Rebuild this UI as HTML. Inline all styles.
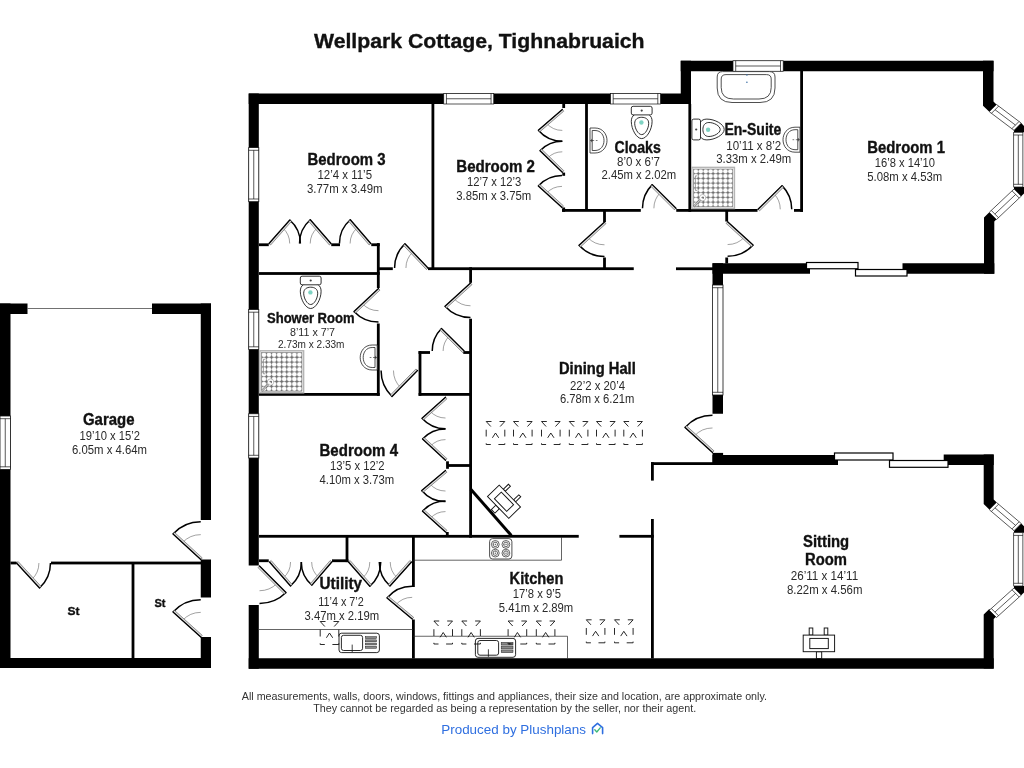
<!DOCTYPE html>
<html><head><meta charset="utf-8"><title>Wellpark Cottage, Tighnabruaich</title>
<style>
html,body{margin:0;padding:0;background:#fff;}
body{width:1024px;height:768px;overflow:hidden;font-family:"Liberation Sans",sans-serif;}
svg{display:block;font-family:"Liberation Sans",sans-serif;}
</style></head><body>
<svg width="1024" height="768" viewBox="0 0 1024 768">
<rect width="1024" height="768" fill="#fff"/>
<rect x="0.00" y="303.50" width="10.50" height="364.50" fill="#000" />
<rect x="0.00" y="303.50" width="27.50" height="10.50" fill="#000" />
<rect x="152.00" y="303.50" width="59.00" height="10.50" fill="#000" />
<rect x="200.75" y="303.50" width="10.25" height="216.50" fill="#000" />
<rect x="200.75" y="559.50" width="10.25" height="38.00" fill="#000" />
<rect x="200.75" y="637.00" width="10.25" height="31.00" fill="#000" />
<rect x="0.00" y="658.00" width="211.00" height="10.00" fill="#000" />
<line x1="27.50" y1="308.50" x2="152.00" y2="308.50" stroke="#333" stroke-width="0.7" stroke-linecap="butt"/>
<rect x="0.00" y="416.00" width="10.50" height="53.50" fill="#fff" stroke="#111" stroke-width="0.8"/>
<line x1="0.00" y1="418.70" x2="10.50" y2="418.70" stroke="#111" stroke-width="0.7" stroke-linecap="butt"/>
<line x1="0.00" y1="466.80" x2="10.50" y2="466.80" stroke="#111" stroke-width="0.7" stroke-linecap="butt"/>
<line x1="5.25" y1="418.70" x2="5.25" y2="466.80" stroke="#111" stroke-width="0.7" stroke-linecap="butt"/>
<rect x="10.50" y="561.60" width="6.00" height="2.80" fill="#000" />
<rect x="51.00" y="561.60" width="150.00" height="2.80" fill="#000" />
<rect x="131.60" y="563.00" width="2.80" height="95.00" fill="#000" />
<path d="M173.00,534.00 A37.69,37.69 0 0 1 200.75,521.81" fill="none" stroke="#000" stroke-width="1.5"/>
<path d="M182.44,542.67 A24.87,24.87 0 0 1 200.75,534.63" fill="none" stroke="#444" stroke-width="0.5"/>
<polygon points="200.75,559.50 173.00,534.00 174.49,532.38 202.24,557.88" fill="#ddd" stroke="#333" stroke-width="0.5"/>
<line x1="200.75" y1="559.50" x2="173.00" y2="534.00" stroke="#000" stroke-width="1.3" stroke-linecap="round"/>
<path d="M173.00,612.00 A37.35,37.35 0 0 1 200.75,599.65" fill="none" stroke="#000" stroke-width="1.5"/>
<path d="M182.44,620.50 A24.65,24.65 0 0 1 200.75,612.35" fill="none" stroke="#444" stroke-width="0.5"/>
<polygon points="200.75,637.00 173.00,612.00 174.47,610.37 202.22,635.37" fill="#ddd" stroke="#333" stroke-width="0.5"/>
<line x1="200.75" y1="637.00" x2="173.00" y2="612.00" stroke="#000" stroke-width="1.3" stroke-linecap="round"/>
<path d="M39.50,588.00 A33.97,33.97 0 0 0 50.47,563.00" fill="none" stroke="#000" stroke-width="1.5"/>
<path d="M31.68,579.50 A22.42,22.42 0 0 0 38.92,563.00" fill="none" stroke="#444" stroke-width="0.5"/>
<polygon points="16.50,563.00 39.50,588.00 41.12,586.51 18.12,561.51" fill="#ddd" stroke="#333" stroke-width="0.5"/>
<line x1="16.50" y1="563.00" x2="39.50" y2="588.00" stroke="#000" stroke-width="1.3" stroke-linecap="round"/>
<rect x="248.70" y="93.50" width="10.10" height="472.00" fill="#000" />
<rect x="248.70" y="605.00" width="10.10" height="63.75" fill="#000" />
<rect x="248.70" y="93.50" width="442.30" height="10.50" fill="#000" />
<rect x="680.75" y="60.75" width="10.25" height="43.25" fill="#000" />
<rect x="680.75" y="60.75" width="312.75" height="10.50" fill="#000" />
<polygon points="983,60.75 993.5,60.75 993.5,101.5 996.5,104.5 989.3,111.7 983,105.7" fill="#000"/>
<polygon points="984,273.75 994.3,273.75 994.3,221.5 996.5,219.3 989.3,212.2 984,217.5" fill="#000"/>
<rect x="712.50" y="263.25" width="97.50" height="10.50" fill="#000" />
<rect x="902.50" y="263.25" width="91.80" height="10.50" fill="#000" />
<rect x="712.50" y="263.25" width="10.50" height="21.75" fill="#000" />
<rect x="712.50" y="395.00" width="10.50" height="18.75" fill="#000" />
<rect x="712.50" y="452.90" width="10.60" height="12.10" fill="#000" />
<rect x="712.50" y="455.00" width="125.50" height="10.00" fill="#000" />
<rect x="943.70" y="454.50" width="50.00" height="10.50" fill="#000" />
<polygon points="983.7,454.5 993.7,454.5 993.7,499.5 996.5,502.3 989.3,509.5 983.7,504" fill="#000"/>
<polygon points="983.7,668.5 993.7,668.5 993.7,619 996.5,616.2 989.3,609 983.7,614.5" fill="#000"/>
<rect x="248.70" y="658.25" width="745.00" height="10.50" fill="#000" />
<rect x="248.70" y="147.60" width="10.10" height="54.10" fill="#fff" stroke="#111" stroke-width="0.8"/>
<line x1="248.70" y1="150.30" x2="258.80" y2="150.30" stroke="#111" stroke-width="0.7" stroke-linecap="butt"/>
<line x1="248.70" y1="199.00" x2="258.80" y2="199.00" stroke="#111" stroke-width="0.7" stroke-linecap="butt"/>
<line x1="253.75" y1="150.30" x2="253.75" y2="199.00" stroke="#111" stroke-width="0.7" stroke-linecap="butt"/>
<rect x="248.70" y="309.50" width="10.10" height="40.00" fill="#fff" stroke="#111" stroke-width="0.8"/>
<line x1="248.70" y1="312.20" x2="258.80" y2="312.20" stroke="#111" stroke-width="0.7" stroke-linecap="butt"/>
<line x1="248.70" y1="346.80" x2="258.80" y2="346.80" stroke="#111" stroke-width="0.7" stroke-linecap="butt"/>
<line x1="253.75" y1="312.20" x2="253.75" y2="346.80" stroke="#111" stroke-width="0.7" stroke-linecap="butt"/>
<rect x="248.70" y="413.75" width="10.10" height="44.25" fill="#fff" stroke="#111" stroke-width="0.8"/>
<line x1="248.70" y1="416.45" x2="258.80" y2="416.45" stroke="#111" stroke-width="0.7" stroke-linecap="butt"/>
<line x1="248.70" y1="455.30" x2="258.80" y2="455.30" stroke="#111" stroke-width="0.7" stroke-linecap="butt"/>
<line x1="253.75" y1="416.45" x2="253.75" y2="455.30" stroke="#111" stroke-width="0.7" stroke-linecap="butt"/>
<rect x="443.75" y="93.50" width="50.00" height="10.50" fill="#fff" stroke="#111" stroke-width="0.7"/>
<line x1="446.45" y1="93.50" x2="446.45" y2="104.00" stroke="#111" stroke-width="0.7" stroke-linecap="butt"/>
<line x1="491.05" y1="93.50" x2="491.05" y2="104.00" stroke="#111" stroke-width="0.7" stroke-linecap="butt"/>
<line x1="446.45" y1="98.75" x2="491.05" y2="98.75" stroke="#111" stroke-width="0.7" stroke-linecap="butt"/>
<rect x="610.50" y="93.50" width="50.00" height="10.50" fill="#fff" stroke="#111" stroke-width="0.7"/>
<line x1="613.20" y1="93.50" x2="613.20" y2="104.00" stroke="#111" stroke-width="0.7" stroke-linecap="butt"/>
<line x1="657.80" y1="93.50" x2="657.80" y2="104.00" stroke="#111" stroke-width="0.7" stroke-linecap="butt"/>
<line x1="613.20" y1="98.75" x2="657.80" y2="98.75" stroke="#111" stroke-width="0.7" stroke-linecap="butt"/>
<rect x="733.00" y="60.75" width="50.20" height="10.50" fill="#fff" stroke="#111" stroke-width="0.7"/>
<line x1="735.70" y1="60.75" x2="735.70" y2="71.25" stroke="#111" stroke-width="0.7" stroke-linecap="butt"/>
<line x1="780.50" y1="60.75" x2="780.50" y2="71.25" stroke="#111" stroke-width="0.7" stroke-linecap="butt"/>
<line x1="735.70" y1="66.00" x2="780.50" y2="66.00" stroke="#111" stroke-width="0.7" stroke-linecap="butt"/>
<rect x="712.50" y="285.00" width="10.50" height="110.00" fill="#fff" stroke="#111" stroke-width="0.8"/>
<line x1="712.50" y1="287.70" x2="723.00" y2="287.70" stroke="#111" stroke-width="0.7" stroke-linecap="butt"/>
<line x1="712.50" y1="392.30" x2="723.00" y2="392.30" stroke="#111" stroke-width="0.7" stroke-linecap="butt"/>
<line x1="717.75" y1="287.70" x2="717.75" y2="392.30" stroke="#111" stroke-width="0.7" stroke-linecap="butt"/>
<rect x="806.50" y="262.50" width="51.50" height="6.25" fill="#fff" stroke="#000" stroke-width="1.2"/>
<rect x="855.50" y="269.50" width="51.50" height="6.50" fill="#fff" stroke="#000" stroke-width="1.2"/>
<rect x="834.50" y="453.00" width="58.50" height="7.00" fill="#fff" stroke="#000" stroke-width="1.2"/>
<rect x="889.50" y="460.50" width="58.50" height="6.80" fill="#fff" stroke="#000" stroke-width="1.2"/>
<polygon points="1014,130.30 1021.2,123.10 1024,125.90 1024,132.30 1014,132.30" fill="#000"/>
<polygon points="1014,189.00 1021.2,196.20 1024,193.40 1024,187.00 1014,187.00" fill="#000"/>
<polygon points="989.30,111.70 1014.00,130.30 1021.20,123.10 996.50,104.50" fill="#fff" stroke="#111" stroke-width="0.7"/>
<line x1="991.46" y1="113.32" x2="998.66" y2="106.12" stroke="#111" stroke-width="0.7" stroke-linecap="butt"/>
<line x1="1011.84" y1="128.68" x2="1019.04" y2="121.48" stroke="#111" stroke-width="0.7" stroke-linecap="butt"/>
<line x1="995.06" y1="109.72" x2="1015.44" y2="125.08" stroke="#111" stroke-width="0.7" stroke-linecap="butt"/>
<polygon points="989.30,212.30 1014.00,189.00 1021.20,196.20 996.50,219.50" fill="#fff" stroke="#111" stroke-width="0.7"/>
<line x1="991.26" y1="210.45" x2="998.46" y2="217.65" stroke="#111" stroke-width="0.7" stroke-linecap="butt"/>
<line x1="1012.04" y1="190.85" x2="1019.24" y2="198.05" stroke="#111" stroke-width="0.7" stroke-linecap="butt"/>
<line x1="994.86" y1="214.05" x2="1015.64" y2="194.45" stroke="#111" stroke-width="0.7" stroke-linecap="butt"/>
<rect x="1013.7" y="132.30" width="9.2" height="54.70" fill="#fff" stroke="#111" stroke-width="0.7"/>
<line x1="1013.70" y1="135.00" x2="1022.90" y2="135.00" stroke="#111" stroke-width="0.7" stroke-linecap="butt"/>
<line x1="1013.70" y1="184.30" x2="1022.90" y2="184.30" stroke="#111" stroke-width="0.7" stroke-linecap="butt"/>
<line x1="1018.30" y1="135.00" x2="1018.30" y2="184.30" stroke="#111" stroke-width="0.7" stroke-linecap="butt"/>
<polygon points="1014,530.70 1021.2,523.50 1024,526.30 1024,532.70 1014,532.70" fill="#000"/>
<polygon points="1014,588.00 1021.2,595.20 1024,592.40 1024,586.00 1014,586.00" fill="#000"/>
<polygon points="989.30,509.70 1014.00,530.70 1021.20,523.50 996.50,502.50" fill="#fff" stroke="#111" stroke-width="0.7"/>
<line x1="991.36" y1="511.45" x2="998.56" y2="504.25" stroke="#111" stroke-width="0.7" stroke-linecap="butt"/>
<line x1="1011.94" y1="528.95" x2="1019.14" y2="521.75" stroke="#111" stroke-width="0.7" stroke-linecap="butt"/>
<line x1="994.96" y1="507.85" x2="1015.54" y2="525.35" stroke="#111" stroke-width="0.7" stroke-linecap="butt"/>
<polygon points="989.30,610.30 1014.00,588.00 1021.20,595.20 996.50,617.50" fill="#fff" stroke="#111" stroke-width="0.7"/>
<line x1="991.30" y1="608.49" x2="998.50" y2="615.69" stroke="#111" stroke-width="0.7" stroke-linecap="butt"/>
<line x1="1012.00" y1="589.81" x2="1019.20" y2="597.01" stroke="#111" stroke-width="0.7" stroke-linecap="butt"/>
<line x1="994.90" y1="612.09" x2="1015.60" y2="593.41" stroke="#111" stroke-width="0.7" stroke-linecap="butt"/>
<rect x="1013.7" y="532.70" width="9.2" height="53.30" fill="#fff" stroke="#111" stroke-width="0.7"/>
<line x1="1013.70" y1="535.40" x2="1022.90" y2="535.40" stroke="#111" stroke-width="0.7" stroke-linecap="butt"/>
<line x1="1013.70" y1="583.30" x2="1022.90" y2="583.30" stroke="#111" stroke-width="0.7" stroke-linecap="butt"/>
<line x1="1018.30" y1="535.40" x2="1018.30" y2="583.30" stroke="#111" stroke-width="0.7" stroke-linecap="butt"/>
<rect x="431.50" y="104.00" width="2.80" height="166.00" fill="#000" />
<rect x="259.00" y="243.35" width="9.75" height="2.80" fill="#000" />
<rect x="331.25" y="243.35" width="8.75" height="2.80" fill="#000" />
<rect x="371.25" y="243.35" width="8.45" height="2.80" fill="#000" />
<rect x="376.90" y="243.10" width="2.80" height="44.90" fill="#000" />
<rect x="376.90" y="323.50" width="2.80" height="72.30" fill="#000" />
<rect x="259.00" y="272.10" width="120.70" height="2.80" fill="#000" />
<rect x="377.00" y="267.30" width="15.80" height="2.80" fill="#000" />
<rect x="428.00" y="267.30" width="205.75" height="2.80" fill="#000" />
<rect x="676.00" y="267.35" width="37.00" height="2.80" fill="#000" />
<rect x="259.00" y="393.00" width="120.70" height="2.80" fill="#000" />
<rect x="418.60" y="393.00" width="53.40" height="2.80" fill="#000" />
<rect x="469.20" y="267.30" width="2.80" height="15.50" fill="#000" />
<rect x="469.20" y="318.75" width="2.80" height="218.95" fill="#000" />
<rect x="418.50" y="351.10" width="11.50" height="2.80" fill="#000" />
<rect x="463.25" y="351.10" width="8.75" height="2.80" fill="#000" />
<rect x="418.60" y="351.10" width="2.80" height="44.70" fill="#000" />
<rect x="446.10" y="461.30" width="2.80" height="7.50" fill="#000" />
<rect x="445.90" y="532.00" width="2.80" height="4.50" fill="#000" />
<rect x="447.00" y="464.10" width="25.00" height="2.80" fill="#000" />
<rect x="259.00" y="534.90" width="319.75" height="2.80" fill="#000" />
<rect x="619.40" y="534.90" width="34.40" height="2.80" fill="#000" />
<rect x="345.60" y="536.00" width="2.80" height="26.10" fill="#000" />
<rect x="332.00" y="559.35" width="16.40" height="2.80" fill="#000" />
<rect x="259.00" y="559.35" width="9.75" height="2.80" fill="#000" />
<rect x="412.00" y="536.00" width="2.80" height="51.00" fill="#000" />
<rect x="412.00" y="619.50" width="2.80" height="39.00" fill="#000" />
<rect x="651.00" y="462.20" width="2.80" height="18.40" fill="#000" />
<rect x="651.00" y="519.00" width="2.80" height="139.50" fill="#000" />
<rect x="651.00" y="462.20" width="62.00" height="2.80" fill="#000" />
<line x1="470.80" y1="489.30" x2="511.30" y2="535.40" stroke="#000" stroke-width="3.0" stroke-linecap="butt"/>
<rect x="562.30" y="103.50" width="2.80" height="4.50" fill="#000" />
<rect x="562.30" y="172.60" width="2.80" height="3.20" fill="#000" />
<rect x="562.30" y="207.50" width="2.80" height="4.30" fill="#000" />
<rect x="562.00" y="209.00" width="78.80" height="2.80" fill="#000" />
<rect x="676.25" y="209.00" width="81.25" height="2.80" fill="#000" />
<rect x="794.00" y="209.00" width="9.00" height="2.80" fill="#000" />
<rect x="585.10" y="104.00" width="2.80" height="106.30" fill="#000" />
<rect x="603.10" y="210.00" width="2.80" height="12.00" fill="#000" />
<rect x="603.10" y="257.50" width="2.80" height="11.20" fill="#000" />
<rect x="688.40" y="104.00" width="2.80" height="107.80" fill="#000" />
<rect x="800.20" y="71.00" width="2.80" height="140.80" fill="#000" />
<rect x="725.30" y="210.00" width="2.80" height="11.50" fill="#000" />
<rect x="725.30" y="257.50" width="2.80" height="6.00" fill="#000" />
<line x1="259.00" y1="629.50" x2="413.00" y2="629.50" stroke="#222" stroke-width="0.7" stroke-linecap="butt"/>
<line x1="413.00" y1="636.25" x2="567.50" y2="636.25" stroke="#222" stroke-width="0.7" stroke-linecap="butt"/>
<line x1="567.50" y1="636.25" x2="567.50" y2="658.50" stroke="#222" stroke-width="0.7" stroke-linecap="butt"/>
<line x1="413.00" y1="560.20" x2="561.50" y2="560.20" stroke="#222" stroke-width="0.7" stroke-linecap="butt"/>
<line x1="561.50" y1="537.00" x2="561.50" y2="560.20" stroke="#222" stroke-width="0.7" stroke-linecap="butt"/>
<path d="M289.80,220.00 A31.38,31.38 0 0 1 300.38,243.50" fill="none" stroke="#000" stroke-width="1.5"/>
<path d="M282.73,227.99 A20.71,20.71 0 0 1 289.71,243.50" fill="none" stroke="#444" stroke-width="0.5"/>
<polygon points="269.00,243.50 289.80,220.00 291.45,221.46 270.65,244.96" fill="#ddd" stroke="#333" stroke-width="0.5"/>
<line x1="269.00" y1="243.50" x2="289.80" y2="220.00" stroke="#000" stroke-width="1.3" stroke-linecap="round"/>
<path d="M310.30,219.80 A31.47,31.47 0 0 0 299.53,243.50" fill="none" stroke="#000" stroke-width="1.5"/>
<path d="M317.34,227.86 A20.77,20.77 0 0 0 310.23,243.50" fill="none" stroke="#444" stroke-width="0.5"/>
<polygon points="331.00,243.50 310.30,219.80 308.64,221.25 329.34,244.95" fill="#ddd" stroke="#333" stroke-width="0.5"/>
<line x1="331.00" y1="243.50" x2="310.30" y2="219.80" stroke="#000" stroke-width="1.3" stroke-linecap="round"/>
<path d="M350.30,219.80 A31.34,31.34 0 0 0 339.46,243.50" fill="none" stroke="#000" stroke-width="1.5"/>
<path d="M357.27,227.86 A20.68,20.68 0 0 0 350.12,243.50" fill="none" stroke="#444" stroke-width="0.5"/>
<polygon points="370.80,243.50 350.30,219.80 348.64,221.24 369.14,244.94" fill="#ddd" stroke="#333" stroke-width="0.5"/>
<line x1="370.80" y1="243.50" x2="350.30" y2="219.80" stroke="#000" stroke-width="1.3" stroke-linecap="round"/>
<path d="M405.00,243.75 A33.42,33.42 0 0 0 394.58,268.00" fill="none" stroke="#000" stroke-width="1.5"/>
<path d="M412.82,252.00 A22.06,22.06 0 0 0 405.94,268.00" fill="none" stroke="#444" stroke-width="0.5"/>
<polygon points="428.00,268.00 405.00,243.75 403.40,245.26 426.40,269.51" fill="#ddd" stroke="#333" stroke-width="0.5"/>
<line x1="428.00" y1="268.00" x2="405.00" y2="243.75" stroke="#000" stroke-width="1.3" stroke-linecap="round"/>
<path d="M354.00,311.50 A33.60,33.60 0 0 0 378.50,322.10" fill="none" stroke="#000" stroke-width="1.5"/>
<path d="M362.33,303.68 A22.18,22.18 0 0 0 378.50,310.68" fill="none" stroke="#444" stroke-width="0.5"/>
<polygon points="378.50,288.50 354.00,311.50 355.51,313.10 380.01,290.10" fill="#ddd" stroke="#333" stroke-width="0.5"/>
<line x1="378.50" y1="288.50" x2="354.00" y2="311.50" stroke="#000" stroke-width="1.3" stroke-linecap="round"/>
<path d="M445.00,306.25 A34.51,34.51 0 0 0 470.50,317.51" fill="none" stroke="#000" stroke-width="1.5"/>
<path d="M453.67,298.35 A22.78,22.78 0 0 0 470.50,305.78" fill="none" stroke="#444" stroke-width="0.5"/>
<polygon points="470.50,283.00 445.00,306.25 446.48,307.88 471.98,284.63" fill="#ddd" stroke="#333" stroke-width="0.5"/>
<line x1="470.50" y1="283.00" x2="445.00" y2="306.25" stroke="#000" stroke-width="1.3" stroke-linecap="round"/>
<path d="M441.50,328.50 A31.96,31.96 0 0 0 432.24,351.00" fill="none" stroke="#000" stroke-width="1.5"/>
<path d="M449.22,336.15 A21.09,21.09 0 0 0 443.11,351.00" fill="none" stroke="#444" stroke-width="0.5"/>
<polygon points="464.20,351.00 441.50,328.50 439.95,330.06 462.65,352.56" fill="#ddd" stroke="#333" stroke-width="0.5"/>
<line x1="464.20" y1="351.00" x2="441.50" y2="328.50" stroke="#000" stroke-width="1.3" stroke-linecap="round"/>
<path d="M392.00,396.50 A36.42,36.42 0 0 1 381.08,370.50" fill="none" stroke="#000" stroke-width="1.5"/>
<path d="M400.67,387.66 A24.04,24.04 0 0 1 393.46,370.50" fill="none" stroke="#444" stroke-width="0.5"/>
<polygon points="417.50,370.50 392.00,396.50 390.43,394.96 415.93,368.96" fill="#ddd" stroke="#333" stroke-width="0.5"/>
<line x1="417.50" y1="370.50" x2="392.00" y2="396.50" stroke="#000" stroke-width="1.3" stroke-linecap="round"/>
<path d="M422.00,418.20 A31.52,31.52 0 0 0 445.50,428.72" fill="none" stroke="#000" stroke-width="1.5"/>
<path d="M429.99,411.06 A20.80,20.80 0 0 0 445.50,418.00" fill="none" stroke="#444" stroke-width="0.5"/>
<polygon points="445.50,397.20 422.00,418.20 423.47,419.84 446.97,398.84" fill="#ddd" stroke="#333" stroke-width="0.5"/>
<line x1="445.50" y1="397.20" x2="422.00" y2="418.20" stroke="#000" stroke-width="1.3" stroke-linecap="round"/>
<path d="M422.50,439.00 A31.35,31.35 0 0 1 445.50,428.95" fill="none" stroke="#000" stroke-width="1.5"/>
<path d="M430.32,446.24 A20.69,20.69 0 0 1 445.50,439.61" fill="none" stroke="#444" stroke-width="0.5"/>
<polygon points="445.50,460.30 422.50,439.00 423.99,437.39 446.99,458.69" fill="#ddd" stroke="#333" stroke-width="0.5"/>
<line x1="445.50" y1="460.30" x2="422.50" y2="439.00" stroke="#000" stroke-width="1.3" stroke-linecap="round"/>
<path d="M421.70,490.50 A31.09,31.09 0 0 0 445.50,501.59" fill="none" stroke="#000" stroke-width="1.5"/>
<path d="M429.79,483.70 A20.52,20.52 0 0 0 445.50,491.02" fill="none" stroke="#444" stroke-width="0.5"/>
<polygon points="445.50,470.50 421.70,490.50 423.12,492.18 446.92,472.18" fill="#ddd" stroke="#333" stroke-width="0.5"/>
<line x1="445.50" y1="470.50" x2="421.70" y2="490.50" stroke="#000" stroke-width="1.3" stroke-linecap="round"/>
<path d="M422.50,511.30 A30.94,30.94 0 0 1 445.50,501.06" fill="none" stroke="#000" stroke-width="1.5"/>
<path d="M430.32,518.34 A20.42,20.42 0 0 1 445.50,511.58" fill="none" stroke="#444" stroke-width="0.5"/>
<polygon points="445.50,532.00 422.50,511.30 423.97,509.66 446.97,530.36" fill="#ddd" stroke="#333" stroke-width="0.5"/>
<line x1="445.50" y1="532.00" x2="422.50" y2="511.30" stroke="#000" stroke-width="1.3" stroke-linecap="round"/>
<path d="M286.00,592.50 A37.48,37.48 0 0 1 259.50,603.48" fill="none" stroke="#000" stroke-width="1.5"/>
<path d="M276.99,583.49 A24.73,24.73 0 0 1 259.50,590.73" fill="none" stroke="#444" stroke-width="0.5"/>
<polygon points="259.50,566.00 286.00,592.50 284.44,594.06 257.94,567.56" fill="#ddd" stroke="#333" stroke-width="0.5"/>
<line x1="259.50" y1="566.00" x2="286.00" y2="592.50" stroke="#000" stroke-width="1.3" stroke-linecap="round"/>
<path d="M290.50,586.00 A31.89,31.89 0 0 0 301.39,562.00" fill="none" stroke="#000" stroke-width="1.5"/>
<path d="M283.36,577.84 A21.05,21.05 0 0 0 290.55,562.00" fill="none" stroke="#444" stroke-width="0.5"/>
<polygon points="269.50,562.00 290.50,586.00 292.16,584.55 271.16,560.55" fill="#ddd" stroke="#333" stroke-width="0.5"/>
<line x1="269.50" y1="562.00" x2="290.50" y2="586.00" stroke="#000" stroke-width="1.3" stroke-linecap="round"/>
<path d="M312.00,585.20 A30.50,30.50 0 0 1 301.30,562.00" fill="none" stroke="#000" stroke-width="1.5"/>
<path d="M318.73,577.31 A20.13,20.13 0 0 1 311.67,562.00" fill="none" stroke="#444" stroke-width="0.5"/>
<polygon points="331.80,562.00 312.00,585.20 310.33,583.77 330.13,560.57" fill="#ddd" stroke="#333" stroke-width="0.5"/>
<line x1="331.80" y1="562.00" x2="312.00" y2="585.20" stroke="#000" stroke-width="1.3" stroke-linecap="round"/>
<path d="M369.80,586.20 A32.24,32.24 0 0 0 380.74,562.00" fill="none" stroke="#000" stroke-width="1.5"/>
<path d="M362.56,577.97 A21.28,21.28 0 0 0 369.78,562.00" fill="none" stroke="#444" stroke-width="0.5"/>
<polygon points="348.50,562.00 369.80,586.20 371.45,584.75 350.15,560.55" fill="#ddd" stroke="#333" stroke-width="0.5"/>
<line x1="348.50" y1="562.00" x2="369.80" y2="586.20" stroke="#000" stroke-width="1.3" stroke-linecap="round"/>
<path d="M390.00,586.00 A32.22,32.22 0 0 1 379.28,562.00" fill="none" stroke="#000" stroke-width="1.5"/>
<path d="M397.31,577.84 A21.27,21.27 0 0 1 390.23,562.00" fill="none" stroke="#444" stroke-width="0.5"/>
<polygon points="411.50,562.00 390.00,586.00 388.36,584.53 409.86,560.53" fill="#ddd" stroke="#333" stroke-width="0.5"/>
<line x1="411.50" y1="562.00" x2="390.00" y2="586.00" stroke="#000" stroke-width="1.3" stroke-linecap="round"/>
<path d="M387.00,598.00 A32.80,32.80 0 0 1 412.20,586.20" fill="none" stroke="#000" stroke-width="1.5"/>
<path d="M395.57,605.14 A21.65,21.65 0 0 1 412.20,597.35" fill="none" stroke="#444" stroke-width="0.5"/>
<polygon points="412.20,619.00 387.00,598.00 388.41,596.31 413.61,617.31" fill="#ddd" stroke="#333" stroke-width="0.5"/>
<line x1="412.20" y1="619.00" x2="387.00" y2="598.00" stroke="#000" stroke-width="1.3" stroke-linecap="round"/>
<path d="M538.30,130.20 A31.69,31.69 0 0 0 562.30,141.19" fill="none" stroke="#000" stroke-width="1.5"/>
<path d="M546.46,123.16 A20.92,20.92 0 0 0 562.30,130.42" fill="none" stroke="#444" stroke-width="0.5"/>
<polygon points="562.30,109.50 538.30,130.20 539.74,131.87 563.74,111.17" fill="#ddd" stroke="#333" stroke-width="0.5"/>
<line x1="562.30" y1="109.50" x2="538.30" y2="130.20" stroke="#000" stroke-width="1.3" stroke-linecap="round"/>
<path d="M540.00,150.70 A31.05,31.05 0 0 1 562.30,141.25" fill="none" stroke="#000" stroke-width="1.5"/>
<path d="M547.58,158.04 A20.49,20.49 0 0 1 562.30,151.81" fill="none" stroke="#444" stroke-width="0.5"/>
<polygon points="562.30,172.30 540.00,150.70 541.53,149.12 563.83,170.72" fill="#ddd" stroke="#333" stroke-width="0.5"/>
<line x1="562.30" y1="172.30" x2="540.00" y2="150.70" stroke="#000" stroke-width="1.3" stroke-linecap="round"/>
<path d="M538.30,186.00 A32.00,32.00 0 0 1 562.00,175.50" fill="none" stroke="#000" stroke-width="1.5"/>
<path d="M546.36,193.31 A21.12,21.12 0 0 1 562.00,186.38" fill="none" stroke="#444" stroke-width="0.5"/>
<polygon points="562.00,207.50 538.30,186.00 539.78,184.37 563.48,205.87" fill="#ddd" stroke="#333" stroke-width="0.5"/>
<line x1="562.00" y1="207.50" x2="538.30" y2="186.00" stroke="#000" stroke-width="1.3" stroke-linecap="round"/>
<path d="M579.00,245.30 A34.54,34.54 0 0 0 604.50,256.54" fill="none" stroke="#000" stroke-width="1.5"/>
<path d="M587.67,237.38 A22.80,22.80 0 0 0 604.50,244.80" fill="none" stroke="#444" stroke-width="0.5"/>
<polygon points="604.50,222.00 579.00,245.30 580.48,246.92 605.98,223.62" fill="#ddd" stroke="#333" stroke-width="0.5"/>
<line x1="604.50" y1="222.00" x2="579.00" y2="245.30" stroke="#000" stroke-width="1.3" stroke-linecap="round"/>
<path d="M652.30,184.60 A33.52,33.52 0 0 0 642.48,208.30" fill="none" stroke="#000" stroke-width="1.5"/>
<path d="M660.36,192.66 A22.12,22.12 0 0 0 653.88,208.30" fill="none" stroke="#444" stroke-width="0.5"/>
<polygon points="676.00,208.30 652.30,184.60 650.74,186.16 674.44,209.86" fill="#ddd" stroke="#333" stroke-width="0.5"/>
<line x1="676.00" y1="208.30" x2="652.30" y2="184.60" stroke="#000" stroke-width="1.3" stroke-linecap="round"/>
<path d="M782.00,185.60 A33.73,33.73 0 0 1 791.73,209.30" fill="none" stroke="#000" stroke-width="1.5"/>
<path d="M773.84,193.66 A22.26,22.26 0 0 1 780.26,209.30" fill="none" stroke="#444" stroke-width="0.5"/>
<polygon points="758.00,209.30 782.00,185.60 783.55,187.17 759.55,210.87" fill="#ddd" stroke="#333" stroke-width="0.5"/>
<line x1="758.00" y1="209.30" x2="782.00" y2="185.60" stroke="#000" stroke-width="1.3" stroke-linecap="round"/>
<path d="M753.10,245.00 A34.47,34.47 0 0 1 727.60,256.27" fill="none" stroke="#000" stroke-width="1.5"/>
<path d="M744.43,237.11 A22.75,22.75 0 0 1 727.60,244.55" fill="none" stroke="#444" stroke-width="0.5"/>
<polygon points="727.60,221.80 753.10,245.00 751.62,246.63 726.12,223.43" fill="#ddd" stroke="#333" stroke-width="0.5"/>
<line x1="727.60" y1="221.80" x2="753.10" y2="245.00" stroke="#000" stroke-width="1.3" stroke-linecap="round"/>
<path d="M685.00,427.50 A37.17,37.17 0 0 1 712.50,415.33" fill="none" stroke="#000" stroke-width="1.5"/>
<path d="M694.35,436.00 A24.53,24.53 0 0 1 712.50,427.97" fill="none" stroke="#444" stroke-width="0.5"/>
<polygon points="712.50,452.50 685.00,427.50 686.48,425.87 713.98,450.87" fill="#ddd" stroke="#333" stroke-width="0.5"/>
<line x1="712.50" y1="452.50" x2="685.00" y2="427.50" stroke="#000" stroke-width="1.3" stroke-linecap="round"/>
<defs>

<g id="sky" fill="none" stroke="#111" stroke-width="0.9">
<path d="M0,0H5.3M0,0L4.6,5 M18.6,0H13.3M18.6,0L14,5 M0,8.2V15 M18.6,8.2V15 M6.2,16.3L9.3,11.5L12.5,16.3 M0,21.8V23H4.6 M18.6,21.8V23H12.2"/>
</g>
<g id="wc" fill="#fff" stroke="#1a1a1a" stroke-width="0.9">
<path d="M-10.4,15 C-10.4,23 -5.2,32.3 0,32.3 C5.2,32.3 10.4,23 10.4,15 C10.4,9 6,6.5 0,6.5 C-6,6.5 -10.4,9 -10.4,15Z"/>
<path d="M-7,17 C-7,22 -3.6,28.3 0,28.3 C3.6,28.3 7,22 7,17 C7,13 4,11 0,11 C-4,11 -7,13 -7,17Z"/>
<rect x="-10.4" y="0" width="20.8" height="8.6" rx="1.8"/>
<circle cx="0" cy="4.3" r="1.1" fill="#444" stroke="none"/>
<circle cx="-0.3" cy="16.2" r="2.2" fill="#7fd3c3" stroke="none"/>
</g>
<g id="sink" fill="#fff" stroke="#222" stroke-width="0.8">
<path d="M0,-12.5 H-5 C-13,-12.5 -17,-6 -17,0 C-17,6 -13,12.5 -5,12.5 H0 Z"/>
<path d="M-2.2,-10 H-5 C-11,-10 -14,-5 -14,0 C-14,5 -11,10 -5,10 H-2.2 Z"/>
<path d="M-7.5,0H-5.8 M-4.2,0H0 M-1.6,-1.6V1.6" stroke-width="0.6"/>
</g>
</defs>
<use href="#wc" x="310.7" y="276.2"/>
<use href="#wc" x="641.7" y="106.3"/>
<use href="#wc" transform="translate(691.9,129.5) rotate(-90)"/>
<use href="#sink" x="377.2" y="357.5"/>
<use href="#sink" x="800" y="139.7"/>
<use href="#sink" transform="translate(590,140.5) scale(-1,1)"/>
<rect x="259.8" y="350.8" width="43.80000000000001" height="42.0" fill="#fff" stroke="#b5b5b5" stroke-width="1.5"/>
<rect x="261.40" y="352.40" width="40.60" height="38.80" fill="#6e6e6e"/>
<ellipse cx="263.94" cy="354.83" rx="2.42" ry="2.30" fill="#fff" stroke="#aaa" stroke-width="0.35"/>
<ellipse cx="263.94" cy="359.68" rx="2.42" ry="2.30" fill="#fff" stroke="#aaa" stroke-width="0.35"/>
<ellipse cx="263.94" cy="364.53" rx="2.42" ry="2.30" fill="#fff" stroke="#aaa" stroke-width="0.35"/>
<ellipse cx="263.94" cy="369.38" rx="2.42" ry="2.30" fill="#fff" stroke="#aaa" stroke-width="0.35"/>
<ellipse cx="263.94" cy="374.23" rx="2.42" ry="2.30" fill="#fff" stroke="#aaa" stroke-width="0.35"/>
<ellipse cx="263.94" cy="379.08" rx="2.42" ry="2.30" fill="#fff" stroke="#aaa" stroke-width="0.35"/>
<ellipse cx="263.94" cy="383.93" rx="2.42" ry="2.30" fill="#fff" stroke="#aaa" stroke-width="0.35"/>
<ellipse cx="263.94" cy="388.78" rx="2.42" ry="2.30" fill="#fff" stroke="#aaa" stroke-width="0.35"/>
<ellipse cx="269.01" cy="354.83" rx="2.42" ry="2.30" fill="#fff" stroke="#aaa" stroke-width="0.35"/>
<ellipse cx="269.01" cy="359.68" rx="2.42" ry="2.30" fill="#fff" stroke="#aaa" stroke-width="0.35"/>
<ellipse cx="269.01" cy="364.53" rx="2.42" ry="2.30" fill="#fff" stroke="#aaa" stroke-width="0.35"/>
<ellipse cx="269.01" cy="369.38" rx="2.42" ry="2.30" fill="#fff" stroke="#aaa" stroke-width="0.35"/>
<ellipse cx="269.01" cy="374.23" rx="2.42" ry="2.30" fill="#fff" stroke="#aaa" stroke-width="0.35"/>
<ellipse cx="269.01" cy="379.08" rx="2.42" ry="2.30" fill="#fff" stroke="#aaa" stroke-width="0.35"/>
<ellipse cx="269.01" cy="383.93" rx="2.42" ry="2.30" fill="#fff" stroke="#aaa" stroke-width="0.35"/>
<ellipse cx="269.01" cy="388.78" rx="2.42" ry="2.30" fill="#fff" stroke="#aaa" stroke-width="0.35"/>
<ellipse cx="274.09" cy="354.83" rx="2.42" ry="2.30" fill="#fff" stroke="#aaa" stroke-width="0.35"/>
<ellipse cx="274.09" cy="359.68" rx="2.42" ry="2.30" fill="#fff" stroke="#aaa" stroke-width="0.35"/>
<ellipse cx="274.09" cy="364.53" rx="2.42" ry="2.30" fill="#fff" stroke="#aaa" stroke-width="0.35"/>
<ellipse cx="274.09" cy="369.38" rx="2.42" ry="2.30" fill="#fff" stroke="#aaa" stroke-width="0.35"/>
<ellipse cx="274.09" cy="374.23" rx="2.42" ry="2.30" fill="#fff" stroke="#aaa" stroke-width="0.35"/>
<ellipse cx="274.09" cy="379.08" rx="2.42" ry="2.30" fill="#fff" stroke="#aaa" stroke-width="0.35"/>
<ellipse cx="274.09" cy="383.93" rx="2.42" ry="2.30" fill="#fff" stroke="#aaa" stroke-width="0.35"/>
<ellipse cx="274.09" cy="388.78" rx="2.42" ry="2.30" fill="#fff" stroke="#aaa" stroke-width="0.35"/>
<ellipse cx="279.16" cy="354.83" rx="2.42" ry="2.30" fill="#fff" stroke="#aaa" stroke-width="0.35"/>
<ellipse cx="279.16" cy="359.68" rx="2.42" ry="2.30" fill="#fff" stroke="#aaa" stroke-width="0.35"/>
<ellipse cx="279.16" cy="364.53" rx="2.42" ry="2.30" fill="#fff" stroke="#aaa" stroke-width="0.35"/>
<ellipse cx="279.16" cy="369.38" rx="2.42" ry="2.30" fill="#fff" stroke="#aaa" stroke-width="0.35"/>
<ellipse cx="279.16" cy="374.23" rx="2.42" ry="2.30" fill="#fff" stroke="#aaa" stroke-width="0.35"/>
<ellipse cx="279.16" cy="379.08" rx="2.42" ry="2.30" fill="#fff" stroke="#aaa" stroke-width="0.35"/>
<ellipse cx="279.16" cy="383.93" rx="2.42" ry="2.30" fill="#fff" stroke="#aaa" stroke-width="0.35"/>
<ellipse cx="279.16" cy="388.78" rx="2.42" ry="2.30" fill="#fff" stroke="#aaa" stroke-width="0.35"/>
<ellipse cx="284.24" cy="354.83" rx="2.42" ry="2.30" fill="#fff" stroke="#aaa" stroke-width="0.35"/>
<ellipse cx="284.24" cy="359.68" rx="2.42" ry="2.30" fill="#fff" stroke="#aaa" stroke-width="0.35"/>
<ellipse cx="284.24" cy="364.53" rx="2.42" ry="2.30" fill="#fff" stroke="#aaa" stroke-width="0.35"/>
<ellipse cx="284.24" cy="369.38" rx="2.42" ry="2.30" fill="#fff" stroke="#aaa" stroke-width="0.35"/>
<ellipse cx="284.24" cy="374.23" rx="2.42" ry="2.30" fill="#fff" stroke="#aaa" stroke-width="0.35"/>
<ellipse cx="284.24" cy="379.08" rx="2.42" ry="2.30" fill="#fff" stroke="#aaa" stroke-width="0.35"/>
<ellipse cx="284.24" cy="383.93" rx="2.42" ry="2.30" fill="#fff" stroke="#aaa" stroke-width="0.35"/>
<ellipse cx="284.24" cy="388.78" rx="2.42" ry="2.30" fill="#fff" stroke="#aaa" stroke-width="0.35"/>
<ellipse cx="289.31" cy="354.83" rx="2.42" ry="2.30" fill="#fff" stroke="#aaa" stroke-width="0.35"/>
<ellipse cx="289.31" cy="359.68" rx="2.42" ry="2.30" fill="#fff" stroke="#aaa" stroke-width="0.35"/>
<ellipse cx="289.31" cy="364.53" rx="2.42" ry="2.30" fill="#fff" stroke="#aaa" stroke-width="0.35"/>
<ellipse cx="289.31" cy="369.38" rx="2.42" ry="2.30" fill="#fff" stroke="#aaa" stroke-width="0.35"/>
<ellipse cx="289.31" cy="374.23" rx="2.42" ry="2.30" fill="#fff" stroke="#aaa" stroke-width="0.35"/>
<ellipse cx="289.31" cy="379.08" rx="2.42" ry="2.30" fill="#fff" stroke="#aaa" stroke-width="0.35"/>
<ellipse cx="289.31" cy="383.93" rx="2.42" ry="2.30" fill="#fff" stroke="#aaa" stroke-width="0.35"/>
<ellipse cx="289.31" cy="388.78" rx="2.42" ry="2.30" fill="#fff" stroke="#aaa" stroke-width="0.35"/>
<ellipse cx="294.39" cy="354.83" rx="2.42" ry="2.30" fill="#fff" stroke="#aaa" stroke-width="0.35"/>
<ellipse cx="294.39" cy="359.68" rx="2.42" ry="2.30" fill="#fff" stroke="#aaa" stroke-width="0.35"/>
<ellipse cx="294.39" cy="364.53" rx="2.42" ry="2.30" fill="#fff" stroke="#aaa" stroke-width="0.35"/>
<ellipse cx="294.39" cy="369.38" rx="2.42" ry="2.30" fill="#fff" stroke="#aaa" stroke-width="0.35"/>
<ellipse cx="294.39" cy="374.23" rx="2.42" ry="2.30" fill="#fff" stroke="#aaa" stroke-width="0.35"/>
<ellipse cx="294.39" cy="379.08" rx="2.42" ry="2.30" fill="#fff" stroke="#aaa" stroke-width="0.35"/>
<ellipse cx="294.39" cy="383.93" rx="2.42" ry="2.30" fill="#fff" stroke="#aaa" stroke-width="0.35"/>
<ellipse cx="294.39" cy="388.78" rx="2.42" ry="2.30" fill="#fff" stroke="#aaa" stroke-width="0.35"/>
<ellipse cx="299.46" cy="354.83" rx="2.42" ry="2.30" fill="#fff" stroke="#aaa" stroke-width="0.35"/>
<ellipse cx="299.46" cy="359.68" rx="2.42" ry="2.30" fill="#fff" stroke="#aaa" stroke-width="0.35"/>
<ellipse cx="299.46" cy="364.53" rx="2.42" ry="2.30" fill="#fff" stroke="#aaa" stroke-width="0.35"/>
<ellipse cx="299.46" cy="369.38" rx="2.42" ry="2.30" fill="#fff" stroke="#aaa" stroke-width="0.35"/>
<ellipse cx="299.46" cy="374.23" rx="2.42" ry="2.30" fill="#fff" stroke="#aaa" stroke-width="0.35"/>
<ellipse cx="299.46" cy="379.08" rx="2.42" ry="2.30" fill="#fff" stroke="#aaa" stroke-width="0.35"/>
<ellipse cx="299.46" cy="383.93" rx="2.42" ry="2.30" fill="#fff" stroke="#aaa" stroke-width="0.35"/>
<ellipse cx="299.46" cy="388.78" rx="2.42" ry="2.30" fill="#fff" stroke="#aaa" stroke-width="0.35"/>
<rect x="261.40" y="352.40" width="40.60" height="38.80" fill="none" stroke="#888" stroke-width="0.5"/>
<path d="M265.3,359.3H263.40000000000003V373.8H265.3" fill="none" stroke="#777" stroke-width="0.7"/>
<path d="M261.6,391.0 L269.3,383.3" stroke="#777" stroke-width="2" fill="none"/>
<path d="M261.6,391.0 L269.3,383.3" stroke="#fff" stroke-width="0.8" fill="none"/>
<circle cx="270.6" cy="382.0" r="2.3" fill="none" stroke="#fff" stroke-width="1.6"/>
<circle cx="270.6" cy="382.0" r="3.2" fill="none" stroke="#888" stroke-width="0.5"/>
<rect x="691.8" y="167.4" width="42.60000000000002" height="41.099999999999994" fill="#fff" stroke="#b5b5b5" stroke-width="1.5"/>
<rect x="693.40" y="169.00" width="39.40" height="37.90" fill="#6e6e6e"/>
<ellipse cx="695.86" cy="171.37" rx="2.34" ry="2.25" fill="#fff" stroke="#aaa" stroke-width="0.35"/>
<ellipse cx="695.86" cy="176.11" rx="2.34" ry="2.25" fill="#fff" stroke="#aaa" stroke-width="0.35"/>
<ellipse cx="695.86" cy="180.84" rx="2.34" ry="2.25" fill="#fff" stroke="#aaa" stroke-width="0.35"/>
<ellipse cx="695.86" cy="185.58" rx="2.34" ry="2.25" fill="#fff" stroke="#aaa" stroke-width="0.35"/>
<ellipse cx="695.86" cy="190.32" rx="2.34" ry="2.25" fill="#fff" stroke="#aaa" stroke-width="0.35"/>
<ellipse cx="695.86" cy="195.06" rx="2.34" ry="2.25" fill="#fff" stroke="#aaa" stroke-width="0.35"/>
<ellipse cx="695.86" cy="199.79" rx="2.34" ry="2.25" fill="#fff" stroke="#aaa" stroke-width="0.35"/>
<ellipse cx="695.86" cy="204.53" rx="2.34" ry="2.25" fill="#fff" stroke="#aaa" stroke-width="0.35"/>
<ellipse cx="700.79" cy="171.37" rx="2.34" ry="2.25" fill="#fff" stroke="#aaa" stroke-width="0.35"/>
<ellipse cx="700.79" cy="176.11" rx="2.34" ry="2.25" fill="#fff" stroke="#aaa" stroke-width="0.35"/>
<ellipse cx="700.79" cy="180.84" rx="2.34" ry="2.25" fill="#fff" stroke="#aaa" stroke-width="0.35"/>
<ellipse cx="700.79" cy="185.58" rx="2.34" ry="2.25" fill="#fff" stroke="#aaa" stroke-width="0.35"/>
<ellipse cx="700.79" cy="190.32" rx="2.34" ry="2.25" fill="#fff" stroke="#aaa" stroke-width="0.35"/>
<ellipse cx="700.79" cy="195.06" rx="2.34" ry="2.25" fill="#fff" stroke="#aaa" stroke-width="0.35"/>
<ellipse cx="700.79" cy="199.79" rx="2.34" ry="2.25" fill="#fff" stroke="#aaa" stroke-width="0.35"/>
<ellipse cx="700.79" cy="204.53" rx="2.34" ry="2.25" fill="#fff" stroke="#aaa" stroke-width="0.35"/>
<ellipse cx="705.71" cy="171.37" rx="2.34" ry="2.25" fill="#fff" stroke="#aaa" stroke-width="0.35"/>
<ellipse cx="705.71" cy="176.11" rx="2.34" ry="2.25" fill="#fff" stroke="#aaa" stroke-width="0.35"/>
<ellipse cx="705.71" cy="180.84" rx="2.34" ry="2.25" fill="#fff" stroke="#aaa" stroke-width="0.35"/>
<ellipse cx="705.71" cy="185.58" rx="2.34" ry="2.25" fill="#fff" stroke="#aaa" stroke-width="0.35"/>
<ellipse cx="705.71" cy="190.32" rx="2.34" ry="2.25" fill="#fff" stroke="#aaa" stroke-width="0.35"/>
<ellipse cx="705.71" cy="195.06" rx="2.34" ry="2.25" fill="#fff" stroke="#aaa" stroke-width="0.35"/>
<ellipse cx="705.71" cy="199.79" rx="2.34" ry="2.25" fill="#fff" stroke="#aaa" stroke-width="0.35"/>
<ellipse cx="705.71" cy="204.53" rx="2.34" ry="2.25" fill="#fff" stroke="#aaa" stroke-width="0.35"/>
<ellipse cx="710.64" cy="171.37" rx="2.34" ry="2.25" fill="#fff" stroke="#aaa" stroke-width="0.35"/>
<ellipse cx="710.64" cy="176.11" rx="2.34" ry="2.25" fill="#fff" stroke="#aaa" stroke-width="0.35"/>
<ellipse cx="710.64" cy="180.84" rx="2.34" ry="2.25" fill="#fff" stroke="#aaa" stroke-width="0.35"/>
<ellipse cx="710.64" cy="185.58" rx="2.34" ry="2.25" fill="#fff" stroke="#aaa" stroke-width="0.35"/>
<ellipse cx="710.64" cy="190.32" rx="2.34" ry="2.25" fill="#fff" stroke="#aaa" stroke-width="0.35"/>
<ellipse cx="710.64" cy="195.06" rx="2.34" ry="2.25" fill="#fff" stroke="#aaa" stroke-width="0.35"/>
<ellipse cx="710.64" cy="199.79" rx="2.34" ry="2.25" fill="#fff" stroke="#aaa" stroke-width="0.35"/>
<ellipse cx="710.64" cy="204.53" rx="2.34" ry="2.25" fill="#fff" stroke="#aaa" stroke-width="0.35"/>
<ellipse cx="715.56" cy="171.37" rx="2.34" ry="2.25" fill="#fff" stroke="#aaa" stroke-width="0.35"/>
<ellipse cx="715.56" cy="176.11" rx="2.34" ry="2.25" fill="#fff" stroke="#aaa" stroke-width="0.35"/>
<ellipse cx="715.56" cy="180.84" rx="2.34" ry="2.25" fill="#fff" stroke="#aaa" stroke-width="0.35"/>
<ellipse cx="715.56" cy="185.58" rx="2.34" ry="2.25" fill="#fff" stroke="#aaa" stroke-width="0.35"/>
<ellipse cx="715.56" cy="190.32" rx="2.34" ry="2.25" fill="#fff" stroke="#aaa" stroke-width="0.35"/>
<ellipse cx="715.56" cy="195.06" rx="2.34" ry="2.25" fill="#fff" stroke="#aaa" stroke-width="0.35"/>
<ellipse cx="715.56" cy="199.79" rx="2.34" ry="2.25" fill="#fff" stroke="#aaa" stroke-width="0.35"/>
<ellipse cx="715.56" cy="204.53" rx="2.34" ry="2.25" fill="#fff" stroke="#aaa" stroke-width="0.35"/>
<ellipse cx="720.49" cy="171.37" rx="2.34" ry="2.25" fill="#fff" stroke="#aaa" stroke-width="0.35"/>
<ellipse cx="720.49" cy="176.11" rx="2.34" ry="2.25" fill="#fff" stroke="#aaa" stroke-width="0.35"/>
<ellipse cx="720.49" cy="180.84" rx="2.34" ry="2.25" fill="#fff" stroke="#aaa" stroke-width="0.35"/>
<ellipse cx="720.49" cy="185.58" rx="2.34" ry="2.25" fill="#fff" stroke="#aaa" stroke-width="0.35"/>
<ellipse cx="720.49" cy="190.32" rx="2.34" ry="2.25" fill="#fff" stroke="#aaa" stroke-width="0.35"/>
<ellipse cx="720.49" cy="195.06" rx="2.34" ry="2.25" fill="#fff" stroke="#aaa" stroke-width="0.35"/>
<ellipse cx="720.49" cy="199.79" rx="2.34" ry="2.25" fill="#fff" stroke="#aaa" stroke-width="0.35"/>
<ellipse cx="720.49" cy="204.53" rx="2.34" ry="2.25" fill="#fff" stroke="#aaa" stroke-width="0.35"/>
<ellipse cx="725.41" cy="171.37" rx="2.34" ry="2.25" fill="#fff" stroke="#aaa" stroke-width="0.35"/>
<ellipse cx="725.41" cy="176.11" rx="2.34" ry="2.25" fill="#fff" stroke="#aaa" stroke-width="0.35"/>
<ellipse cx="725.41" cy="180.84" rx="2.34" ry="2.25" fill="#fff" stroke="#aaa" stroke-width="0.35"/>
<ellipse cx="725.41" cy="185.58" rx="2.34" ry="2.25" fill="#fff" stroke="#aaa" stroke-width="0.35"/>
<ellipse cx="725.41" cy="190.32" rx="2.34" ry="2.25" fill="#fff" stroke="#aaa" stroke-width="0.35"/>
<ellipse cx="725.41" cy="195.06" rx="2.34" ry="2.25" fill="#fff" stroke="#aaa" stroke-width="0.35"/>
<ellipse cx="725.41" cy="199.79" rx="2.34" ry="2.25" fill="#fff" stroke="#aaa" stroke-width="0.35"/>
<ellipse cx="725.41" cy="204.53" rx="2.34" ry="2.25" fill="#fff" stroke="#aaa" stroke-width="0.35"/>
<ellipse cx="730.34" cy="171.37" rx="2.34" ry="2.25" fill="#fff" stroke="#aaa" stroke-width="0.35"/>
<ellipse cx="730.34" cy="176.11" rx="2.34" ry="2.25" fill="#fff" stroke="#aaa" stroke-width="0.35"/>
<ellipse cx="730.34" cy="180.84" rx="2.34" ry="2.25" fill="#fff" stroke="#aaa" stroke-width="0.35"/>
<ellipse cx="730.34" cy="185.58" rx="2.34" ry="2.25" fill="#fff" stroke="#aaa" stroke-width="0.35"/>
<ellipse cx="730.34" cy="190.32" rx="2.34" ry="2.25" fill="#fff" stroke="#aaa" stroke-width="0.35"/>
<ellipse cx="730.34" cy="195.06" rx="2.34" ry="2.25" fill="#fff" stroke="#aaa" stroke-width="0.35"/>
<ellipse cx="730.34" cy="199.79" rx="2.34" ry="2.25" fill="#fff" stroke="#aaa" stroke-width="0.35"/>
<ellipse cx="730.34" cy="204.53" rx="2.34" ry="2.25" fill="#fff" stroke="#aaa" stroke-width="0.35"/>
<rect x="693.40" y="169.00" width="39.40" height="37.90" fill="none" stroke="#888" stroke-width="0.5"/>
<path d="M697.3,175.9H695.4V190.4H697.3" fill="none" stroke="#777" stroke-width="0.7"/>
<path d="M693.5999999999999,206.7 L701.3,199.0" stroke="#777" stroke-width="2" fill="none"/>
<path d="M693.5999999999999,206.7 L701.3,199.0" stroke="#fff" stroke-width="0.8" fill="none"/>
<circle cx="702.5999999999999" cy="197.7" r="2.3" fill="none" stroke="#fff" stroke-width="1.6"/>
<circle cx="702.5999999999999" cy="197.7" r="3.2" fill="none" stroke="#888" stroke-width="0.5"/>
<path d="M722.5,71.6 H769.5 Q775,71.6 775,77 V88 Q775,102.5 760,102.5 H732 Q717.2,102.5 717.2,88 V77 Q717.2,71.6 722.5,71.6Z" fill="#fff" stroke="#222" stroke-width="0.8"/>
<path d="M726,74.6 H766.5 Q771.2,74.6 771.2,79 V87.5 Q771.2,99 759,99 H733.5 Q721.2,99 721.2,87.5 V79 Q721.2,74.6 726,74.6Z" fill="#fff" stroke="#222" stroke-width="0.8"/>
<circle cx="746.9" cy="75" r="0.8" fill="#3a6ea5"/><circle cx="746.9" cy="82.3" r="0.8" fill="#3a6ea5"/>
<rect x="489.6" y="538.6" width="22.3" height="20.4" rx="3" fill="#fff" stroke="#222" stroke-width="0.8"/>
<circle cx="495.3" cy="544.4" r="3.9" fill="none" stroke="#222" stroke-width="0.7"/><circle cx="495.3" cy="544.4" r="2.3" fill="none" stroke="#222" stroke-width="0.6"/>
<path d="M493.0,544.4H497.6M495.3,542.1V546.6999999999999" stroke="#222" stroke-width="0.5" stroke-dasharray="1.2 0.8"/>
<circle cx="495.3" cy="553.1" r="3.9" fill="none" stroke="#222" stroke-width="0.7"/><circle cx="495.3" cy="553.1" r="2.3" fill="none" stroke="#222" stroke-width="0.6"/>
<path d="M493.0,553.1H497.6M495.3,550.8000000000001V555.4" stroke="#222" stroke-width="0.5" stroke-dasharray="1.2 0.8"/>
<circle cx="505.9" cy="544.4" r="3.9" fill="none" stroke="#222" stroke-width="0.7"/><circle cx="505.9" cy="544.4" r="2.3" fill="none" stroke="#222" stroke-width="0.6"/>
<path d="M503.59999999999997,544.4H508.2M505.9,542.1V546.6999999999999" stroke="#222" stroke-width="0.5" stroke-dasharray="1.2 0.8"/>
<circle cx="505.9" cy="553.1" r="3.9" fill="none" stroke="#222" stroke-width="0.7"/><circle cx="505.9" cy="553.1" r="2.3" fill="none" stroke="#222" stroke-width="0.6"/>
<path d="M503.59999999999997,553.1H508.2M505.9,550.8000000000001V555.4" stroke="#222" stroke-width="0.5" stroke-dasharray="1.2 0.8"/>
<rect x="339" y="633.2" width="40.39999999999998" height="19.399999999999977" rx="2.6" fill="#fff" stroke="#111" stroke-width="0.9"/>
<rect x="341.4" y="635.3000000000001" width="21.200000000000024" height="15.199999999999978" rx="2.2" fill="#fff" stroke="#111" stroke-width="0.9"/>
<path d="M352.20,644.6V652.1" stroke="#111" stroke-width="0.8"/>
<rect x="365.4" y="636.65" width="11.200000000000045" height="1.9" fill="#8a8a8a" stroke="#222" stroke-width="0.5"/>
<rect x="365.4" y="639.85" width="11.200000000000045" height="1.9" fill="#8a8a8a" stroke="#222" stroke-width="0.5"/>
<rect x="365.4" y="643.05" width="11.200000000000045" height="1.9" fill="#8a8a8a" stroke="#222" stroke-width="0.5"/>
<rect x="365.4" y="646.35" width="11.200000000000045" height="1.9" fill="#8a8a8a" stroke="#222" stroke-width="0.5"/>
<rect x="475.4" y="638.4" width="40.200000000000045" height="18.899999999999977" rx="2.6" fill="#fff" stroke="#111" stroke-width="0.9"/>
<rect x="477.79999999999995" y="640.5" width="20.800000000000047" height="14.699999999999978" rx="2.2" fill="#fff" stroke="#111" stroke-width="0.9"/>
<path d="M488.40,649.3V656.8" stroke="#111" stroke-width="0.8"/>
<rect x="501.2" y="642.35" width="11.800000000000011" height="2.7" fill="#8a8a8a" stroke="#222" stroke-width="0.5"/>
<rect x="501.2" y="646.15" width="11.800000000000011" height="2.7" fill="#8a8a8a" stroke="#222" stroke-width="0.5"/>
<rect x="501.2" y="649.95" width="11.800000000000011" height="2.7" fill="#8a8a8a" stroke="#222" stroke-width="0.5"/>
<circle cx="509.8" cy="643.7" r="0.7" fill="#111"/>
<rect x="809.2" y="628" width="3.6" height="7.1" fill="#fff" stroke="#111" stroke-width="0.95"/><rect x="824.2" y="628" width="3.6" height="7.1" fill="#fff" stroke="#111" stroke-width="0.95"/>
<rect x="816.4" y="651.7" width="5.3" height="6.8" fill="#fff" stroke="#111" stroke-width="0.95"/>
<rect x="803.2" y="635.1" width="31.4" height="16.6" fill="#fff" stroke="#111" stroke-width="0.95"/><rect x="809.8" y="638.4" width="18.5" height="10.2" fill="#fff" stroke="#111" stroke-width="0.95"/>
<g transform="translate(504,501.7) rotate(45.7)"><rect x="-9.4" y="-15.4" width="2.8" height="7.2" fill="#fff" stroke="#111" stroke-width="0.95"/><rect x="5.4" y="-15.4" width="2.8" height="7.2" fill="#fff" stroke="#111" stroke-width="0.95"/><rect x="-3.2" y="8.2" width="5" height="6.3" fill="#fff" stroke="#111" stroke-width="0.95"/><rect x="-15.25" y="-8.2" width="30.5" height="16.4" fill="#fff" stroke="#111" stroke-width="0.95"/><rect x="-8.8" y="-4.8" width="17.6" height="9.6" fill="#fff" stroke="#111" stroke-width="0.95"/></g>
<use href="#sky" x="486.2" y="421.5"/>
<use href="#sky" x="513.5" y="421.5"/>
<use href="#sky" x="541.5" y="421.5"/>
<use href="#sky" x="569.3" y="421.5"/>
<use href="#sky" x="596.5" y="421.5"/>
<use href="#sky" x="623.8" y="421.5"/>
<use href="#sky" x="433.9" y="621"/>
<use href="#sky" x="461.8" y="621"/>
<use href="#sky" x="508.1" y="621"/>
<use href="#sky" x="536.3" y="621"/>
<use href="#sky" x="586.3" y="619.8"/>
<use href="#sky" x="614.5" y="619.8"/>
<use href="#sky" x="320.2" y="621.5"/>
<g style="filter:grayscale(1)">
<text x="314.00" y="48.10" font-size="21" font-weight="bold" fill="#111" stroke="#111" stroke-width="0.35" textLength="330.60" lengthAdjust="spacingAndGlyphs">Wellpark Cottage, Tighnabruaich</text>
<text x="307.50" y="165.00" font-size="15.6" font-weight="bold" fill="#111" stroke="#111" stroke-width="0.35" textLength="78.00" lengthAdjust="spacingAndGlyphs">Bedroom 3</text>
<text x="317.50" y="179.00" font-size="12" font-weight="normal" fill="#2a2a2a"  textLength="54.50" lengthAdjust="spacingAndGlyphs">12’4 x 11’5</text>
<text x="307.00" y="193.00" font-size="12" font-weight="normal" fill="#2a2a2a"  textLength="75.50" lengthAdjust="spacingAndGlyphs">3.77m x 3.49m</text>
<text x="456.25" y="172.00" font-size="15.6" font-weight="bold" fill="#111" stroke="#111" stroke-width="0.35" textLength="78.75" lengthAdjust="spacingAndGlyphs">Bedroom 2</text>
<text x="467.00" y="185.50" font-size="12" font-weight="normal" fill="#2a2a2a"  textLength="54.25" lengthAdjust="spacingAndGlyphs">12’7 x 12’3</text>
<text x="456.25" y="199.50" font-size="12" font-weight="normal" fill="#2a2a2a"  textLength="75.00" lengthAdjust="spacingAndGlyphs">3.85m x 3.75m</text>
<text x="614.50" y="153.00" font-size="15.6" font-weight="bold" fill="#111" stroke="#111" stroke-width="0.35" textLength="46.25" lengthAdjust="spacingAndGlyphs">Cloaks</text>
<text x="617.00" y="165.50" font-size="12" font-weight="normal" fill="#2a2a2a"  textLength="43.00" lengthAdjust="spacingAndGlyphs">8’0 x 6’7</text>
<text x="601.50" y="178.75" font-size="12" font-weight="normal" fill="#2a2a2a"  textLength="74.75" lengthAdjust="spacingAndGlyphs">2.45m x 2.02m</text>
<text x="724.40" y="135.00" font-size="15.6" font-weight="bold" fill="#111" stroke="#111" stroke-width="0.35" textLength="56.85" lengthAdjust="spacingAndGlyphs">En-Suite</text>
<text x="726.25" y="149.50" font-size="12" font-weight="normal" fill="#2a2a2a"  textLength="55.00" lengthAdjust="spacingAndGlyphs">10’11 x 8’2</text>
<text x="716.25" y="163.00" font-size="12" font-weight="normal" fill="#2a2a2a"  textLength="75.00" lengthAdjust="spacingAndGlyphs">3.33m x 2.49m</text>
<text x="867.25" y="153.00" font-size="15.6" font-weight="bold" fill="#111" stroke="#111" stroke-width="0.35" textLength="77.75" lengthAdjust="spacingAndGlyphs">Bedroom 1</text>
<text x="874.75" y="167.00" font-size="12" font-weight="normal" fill="#2a2a2a"  textLength="60.25" lengthAdjust="spacingAndGlyphs">16’8 x 14’10</text>
<text x="867.25" y="180.50" font-size="12" font-weight="normal" fill="#2a2a2a"  textLength="75.00" lengthAdjust="spacingAndGlyphs">5.08m x 4.53m</text>
<text x="267.00" y="322.50" font-size="14" font-weight="bold" fill="#111" stroke="#111" stroke-width="0.35" textLength="87.50" lengthAdjust="spacingAndGlyphs">Shower Room</text>
<text x="290.00" y="336.00" font-size="11" font-weight="normal" fill="#2a2a2a"  textLength="45.00" lengthAdjust="spacingAndGlyphs">8’11 x 7’7</text>
<text x="278.00" y="348.00" font-size="11" font-weight="normal" fill="#2a2a2a"  textLength="66.50" lengthAdjust="spacingAndGlyphs">2.73m x 2.33m</text>
<text x="559.00" y="374.00" font-size="15.6" font-weight="bold" fill="#111" stroke="#111" stroke-width="0.35" textLength="76.80" lengthAdjust="spacingAndGlyphs">Dining Hall</text>
<text x="570.00" y="389.50" font-size="12" font-weight="normal" fill="#2a2a2a"  textLength="55.00" lengthAdjust="spacingAndGlyphs">22’2 x 20’4</text>
<text x="560.00" y="403.00" font-size="12" font-weight="normal" fill="#2a2a2a"  textLength="74.25" lengthAdjust="spacingAndGlyphs">6.78m x 6.21m</text>
<text x="319.50" y="456.25" font-size="15.6" font-weight="bold" fill="#111" stroke="#111" stroke-width="0.35" textLength="78.50" lengthAdjust="spacingAndGlyphs">Bedroom 4</text>
<text x="330.00" y="470.00" font-size="12" font-weight="normal" fill="#2a2a2a"  textLength="54.50" lengthAdjust="spacingAndGlyphs">13’5 x 12’2</text>
<text x="319.50" y="483.50" font-size="12" font-weight="normal" fill="#2a2a2a"  textLength="74.75" lengthAdjust="spacingAndGlyphs">4.10m x 3.73m</text>
<text x="319.50" y="588.75" font-size="15.6" font-weight="bold" fill="#111" stroke="#111" stroke-width="0.35" textLength="42.50" lengthAdjust="spacingAndGlyphs">Utility</text>
<text x="318.25" y="605.75" font-size="12" font-weight="normal" fill="#2a2a2a"  textLength="45.50" lengthAdjust="spacingAndGlyphs">11’4 x 7’2</text>
<text x="304.50" y="619.50" font-size="12" font-weight="normal" fill="#2a2a2a"  textLength="74.75" lengthAdjust="spacingAndGlyphs">3.47m x 2.19m</text>
<text x="509.60" y="583.75" font-size="15.6" font-weight="bold" fill="#111" stroke="#111" stroke-width="0.35" textLength="53.80" lengthAdjust="spacingAndGlyphs">Kitchen</text>
<text x="512.75" y="598.00" font-size="12" font-weight="normal" fill="#2a2a2a"  textLength="48.15" lengthAdjust="spacingAndGlyphs">17’8 x 9’5</text>
<text x="498.75" y="612.00" font-size="12" font-weight="normal" fill="#2a2a2a"  textLength="74.50" lengthAdjust="spacingAndGlyphs">5.41m x 2.89m</text>
<text x="803.00" y="546.90" font-size="15.6" font-weight="bold" fill="#111" stroke="#111" stroke-width="0.35" textLength="46.20" lengthAdjust="spacingAndGlyphs">Sitting</text>
<text x="805.00" y="564.50" font-size="15.6" font-weight="bold" fill="#111" stroke="#111" stroke-width="0.35" textLength="42.00" lengthAdjust="spacingAndGlyphs">Room</text>
<text x="790.70" y="579.50" font-size="12" font-weight="normal" fill="#2a2a2a"  textLength="67.50" lengthAdjust="spacingAndGlyphs">26’11 x 14’11</text>
<text x="787.00" y="593.70" font-size="12" font-weight="normal" fill="#2a2a2a"  textLength="75.40" lengthAdjust="spacingAndGlyphs">8.22m x 4.56m</text>
<text x="83.00" y="425.00" font-size="15.6" font-weight="bold" fill="#111" stroke="#111" stroke-width="0.35" textLength="51.50" lengthAdjust="spacingAndGlyphs">Garage</text>
<text x="79.50" y="440.00" font-size="12" font-weight="normal" fill="#2a2a2a"  textLength="60.50" lengthAdjust="spacingAndGlyphs">19’10 x 15’2</text>
<text x="72.00" y="453.75" font-size="12" font-weight="normal" fill="#2a2a2a"  textLength="75.00" lengthAdjust="spacingAndGlyphs">6.05m x 4.64m</text>
<text x="67.50" y="615.00" font-size="11" font-weight="bold" fill="#111" stroke="#111" stroke-width="0.35" textLength="12.00" lengthAdjust="spacingAndGlyphs">St</text>
<text x="154.50" y="607.00" font-size="11" font-weight="bold" fill="#111" stroke="#111" stroke-width="0.35" textLength="11.00" lengthAdjust="spacingAndGlyphs">St</text>
<text x="241.80" y="699.60" font-size="11" font-weight="normal" fill="#333"  textLength="525.20" lengthAdjust="spacingAndGlyphs">All measurements, walls, doors, windows, fittings and appliances, their size and location, are approximate only.</text>
<text x="313.20" y="712.00" font-size="11" font-weight="normal" fill="#333"  textLength="383.00" lengthAdjust="spacingAndGlyphs">They cannot be regarded as being a representation by the seller, nor their agent.</text>
</g><g style="opacity:0.999">
<text x="441.25" y="733.70" font-size="13.3" font-weight="normal" fill="#2f6fe0"  textLength="144.75" lengthAdjust="spacingAndGlyphs">Produced by Plushplans</text>
</g>
<path d="M592.6,733.6V727.6L597.5,723.4L602.6,727.6V733.6" fill="none" stroke="#2f6fe0" stroke-width="1.6" stroke-linejoin="round" stroke-linecap="round"/>
<path d="M594.8,729.8L596.8,732L600.2,727.8" fill="none" stroke="#3bb878" stroke-width="1.3" stroke-linecap="round" stroke-linejoin="round"/>
</svg>
</body></html>
